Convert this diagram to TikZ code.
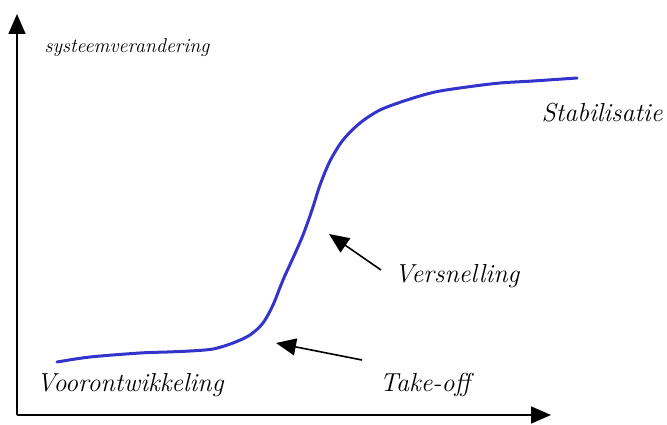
\documentclass[tikz,border=0pt]{standalone}
\usetikzlibrary{arrows.meta, positioning}
\definecolor{curveblue}{RGB}{52,52,204}
\tikzstyle{phase} = [font=\itshape\fontsize{26}{28}\selectfont, inner sep=0pt]
\tikzstyle{axis} = [line width=1.6pt, -{Triangle[length=20pt,width=17pt]}]
\tikzstyle{pointer} = [line width=1.6pt, -{Triangle[length=20pt,width=17pt]}]
\tikzstyle{scurve} = [line width=3pt, curveblue, line cap=round, line join=round]

\begin{document}
\begin{tikzpicture}[x=1pt, y=-1pt]
	\useasboundingbox (0,0) rectangle (667,425);
	% axes
	\coordinate (origin) at (17,415);
	\coordinate (ytop) at (17,14);
	\coordinate (xend) at (551,415);
	\draw[axis] (origin) -- (ytop);
	\draw[axis] (origin) -- (xend);
	% S-curve
	\draw[scurve] plot[smooth, tension=0.5] coordinates {
		(57,362) (90,357) (140,353) (167,352) (190,351) (213,349)
		(233,343) (250,335) (263,323) (273,305) (283,280) (293,258)
		(303,235) (312,210) (320,185) (330,161) (343,140) (360,123)
		(380,110) (407,100) (435,92) (467,87) (500,83) (533,81) (577,78)};
	% labels
	\node (yname) [font=\itshape\fontsize{20}{22}\selectfont] at (127,48) {systeemverandering};
	\node (stab) [phase] at (602,113) {Stabilisatie};
	\node (versn) [phase] at (457,276) {Versnelling};
	\node (voor) [phase] at (130,385) {Voorontwikkeling};
	\node (takeoff) [phase] at (425,385) {Take-off};
	% pointers
	\coordinate (versnStart) at (381,270);
	\coordinate (versnTip) at (329,234);
	\coordinate (takeStart) at (362,360);
	\coordinate (takeTip) at (276,343);
	\draw[pointer] (versnStart) -- (versnTip);
	\draw[pointer] (takeStart) -- (takeTip);
\end{tikzpicture}
\end{document}
